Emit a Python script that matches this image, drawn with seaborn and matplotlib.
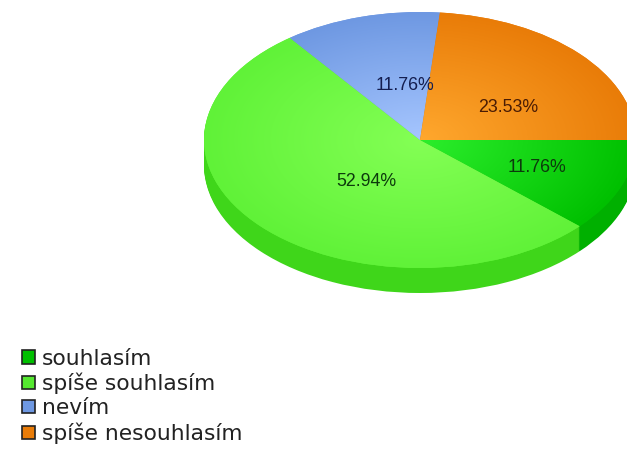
import numpy as np
import matplotlib
matplotlib.use('Agg')
import matplotlib.pyplot as plt
from matplotlib.colors import to_rgb
from matplotlib.patches import Patch
import seaborn as sns

# Data
categories = ['souhlasím', 'spíše souhlasím', 'nevím', 'spíše nesouhlasím']
shares = [11.76, 52.94, 11.76, 23.53]

# Colours: middle of the slice, rim of the slice, side wall
center_colors = ['#2cee2c', '#84ff55', '#a6c6ff', '#ffa82e']
rim_colors = ['#00c000', '#60f238', '#6e98e2', '#e97c08']
side_colors = ['#00b000', '#3fd61a', '#4f78c0', '#c86800']
legend_colors = ['#00c000', '#55e830', '#6e98e2', '#e97c08']

sns.set_theme(style='white')
plt.rcParams['font.family'] = ['Liberation Sans', 'DejaVu Sans']

W, H = 627, 449
fig = plt.figure(figsize=(W / 100, H / 100), dpi=100)
ax = fig.add_axes([0, 0, 1, 1])

# Ellipse layout in pixels
cx, cy, rx, ry, depth = 420, 140, 216, 128, 25


def pie_layer(colors, dy=0.0):
    wedges, _ = ax.pie(shares, colors=colors, startangle=0, counterclock=False,
                       radius=1, center=(0, dy), wedgeprops={'linewidth': 0})
    return wedges


# Side wall: stacked copies of the pie going down
for step in range(depth, 0, -1):
    pie_layer(side_colors, dy=-step / ry)

# Top face with a radial shading clipped to each wedge
top = pie_layer(rim_colors)
yy, xx = np.mgrid[-1:1:400j, -1:1:400j]
r = np.clip(np.hypot(xx, yy), 0, 1)[..., None]
for wedge, c0, c1 in zip(top, center_colors, rim_colors):
    shade = np.array(to_rgb(c0)) * (1 - r) + np.array(to_rgb(c1)) * r
    im = ax.imshow(shade, extent=(-1, 1, -1, 1), origin='lower', aspect='auto',
                   interpolation='bilinear', zorder=2)
    im.set_clip_path(wedge)

ax.set_aspect('auto')
ax.set_xlim(-cx / rx, (W - cx) / rx)
ax.set_ylim((cy - H) / ry, cy / ry)
ax.axis('off')

# Percent labels, pixel positions from the top left
label_px = [(537, 168), (366, 182), (405, 85), (508, 107)]
label_colors = ['#0c3a0c', '#0c3a0c', '#141e50', '#4a1c04']
for share, (px, py), col in zip(shares, label_px, label_colors):
    ax.text(px / W, 1 - py / H, f'{share:.2f}%', transform=ax.transAxes,
            ha='center', va='center', fontsize=12.8, color=col,
            family='Liberation Sans', zorder=3)

handles = [Patch(facecolor=c, edgecolor='#222222', linewidth=1.2) for c in legend_colors]
fig.legend(handles, categories, loc='lower left', bbox_to_anchor=(22 / W, 5 / H),
           frameon=False, borderpad=0, borderaxespad=0, handlelength=0.58,
           handleheight=0.58, handletextpad=0.32, labelspacing=0.19,
           prop={'family': 'DejaVu Sans', 'size': 15.7}, labelcolor='#222222')

fig.savefig('out.png', dpi=100)
